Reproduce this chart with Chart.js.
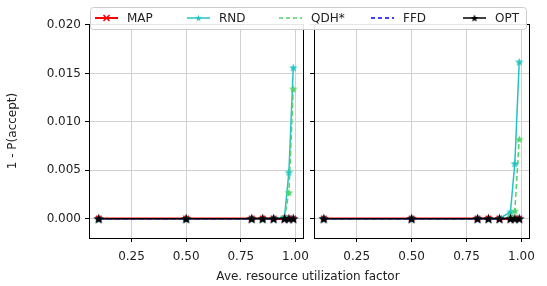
<!DOCTYPE html>
<html>
<head>
<meta charset="utf-8">
<script src="https://cdn.jsdelivr.net/npm/chart.js@4"></script>
<style>
  body { margin: 0; background: #fff; }
  #wrap { position: relative; width: 547px; height: 286px; }
  canvas { position: absolute; left: 0; top: 0; }
</style>
</head>
<body>
<div id="wrap">
  <canvas id="leftChart" width="547" height="286"></canvas>
  <canvas id="rightChart" width="547" height="286"></canvas>
</div>
<script>
// utilization factors (x axis)
const utilization = [0.1, 0.5, 0.8, 0.85, 0.9, 0.95, 0.97, 0.99];

// left panel: 1 - P(accept)
const mapLeft = [0, 0, 0, 0, 0, 0, 0, 0];
const rndLeft = [0, 0, 0, 0, 0, 0.0002, 0.0048, 0.0156];
const qdhLeft = [0, 0, 0, 0, 0, 0.0001, 0.0027, 0.0134];
const ffdLeft = [0, 0, 0, 0, 0, 0, 0, 0];
const optLeft = [0, 0, 0, 0, 0, 0, 0, 0];

// right panel
const mapRight = [0, 0, 0, 0, 0, 0, 0, 0];
const rndRight = [0, 0, 0, 0, 0, 0.0007, 0.0057, 0.0162];
const qdhRight = [0, 0, 0, 0, 0, 0.0002, 0.0008, 0.0082];
const ffdRight = [0, 0, 0, 0, 0, 0, 0, 0];
const optRight = [0, 0, 0, 0, 0, 0, 0, 0];

const xTicks = [0.25, 0.5, 0.75, 1.0];
const yTicks = [0, 0.005, 0.010, 0.015, 0.020];
const seriesNames = ['MAP', 'RND', 'QDH*', 'FFD', 'OPT'];

const FONT = 'DejaVu Sans';
const colors = { MAP: '#ff0000', RND: '#22c4c4', 'QDH*': '#4fd36a', FFD: '#0000ff', OPT: '#000000' };

// filled five-point star used as a marker
function makeStar(color, r) {
    const size = Math.ceil(2 * r + 2);
    const c = document.createElement('canvas');
    c.width = size; c.height = size;
    const ctx = c.getContext('2d');
    ctx.fillStyle = color;
    ctx.beginPath();
    for (let i = 0; i < 10; i++) {
        const rad = i % 2 === 0 ? r : r * 0.42;
        const a = -Math.PI / 2 + i * Math.PI / 5;
        const px = size / 2 + rad * Math.cos(a);
        const py = size / 2 + rad * Math.sin(a) + r * 0.1;
        if (i === 0) ctx.moveTo(px, py); else ctx.lineTo(px, py);
    }
    ctx.closePath();
    ctx.fill();
    return c;
}

const stars = {
    RND: makeStar(colors.RND, 4.5),
    'QDH*': makeStar(colors['QDH*'], 4.5),
    FFD: makeStar(colors.FFD, 4),
    OPT: makeStar(colors.OPT, 5.5)
};
const legendStars = {
    RND: makeStar(colors.RND, 3.5),
    'QDH*': makeStar(colors['QDH*'], 3.5),
    FFD: makeStar(colors.FFD, 3.5),
    OPT: makeStar(colors.OPT, 4)
};

function toPoints(values) {
    return utilization.map((x, i) => ({ x: x, y: values[i] }));
}

function buildDatasets(mapV, rndV, qdhV, ffdV, optV) {
    return [
        { label: 'MAP', data: toPoints(mapV), borderColor: colors.MAP, borderWidth: 2.5,
          pointStyle: 'crossRot', pointRadius: 4, pointBorderColor: colors.MAP, pointBorderWidth: 1.5, order: 5 },
        { label: 'RND', data: toPoints(rndV), borderColor: colors.RND, borderWidth: 1.5,
          pointStyle: stars.RND, order: 4 },
        { label: 'QDH*', data: toPoints(qdhV), borderColor: colors['QDH*'], borderWidth: 1.5, borderDash: [5, 3],
          pointStyle: stars['QDH*'], order: 3 },
        { label: 'FFD', data: toPoints(ffdV), borderColor: colors.FFD, borderWidth: 1.5, borderDash: [5, 3],
          pointStyle: stars.FFD, order: 2 },
        { label: 'OPT', data: toPoints(optV), borderColor: colors.OPT, borderWidth: 1.2,
          pointStyle: stars.OPT, order: 1 }
    ];
}

// black frame round the plot area, like matplotlib spines
const framePlugin = {
    id: 'frame',
    afterDatasetsDraw(chart) {
        const a = chart.chartArea;
        const ctx = chart.ctx;
        ctx.save();
        ctx.strokeStyle = '#000';
        ctx.lineWidth = 1;
        ctx.strokeRect(Math.round(a.left) + 0.5, Math.round(a.top) + 0.5,
                       Math.round(a.right - a.left), Math.round(a.bottom - a.top));
        ctx.restore();
    }
};

// shared legend and x title, drawn on the top canvas
const legendPlugin = {
    id: 'legendBox',
    afterDraw(chart) {
        const ctx = chart.ctx;
        ctx.save();
        const bx = 90.5, by = 7.5, bw = 436, bh = 22, r = 3;
        ctx.beginPath();
        ctx.moveTo(bx + r, by);
        ctx.arcTo(bx + bw, by, bx + bw, by + bh, r);
        ctx.arcTo(bx + bw, by + bh, bx, by + bh, r);
        ctx.arcTo(bx, by + bh, bx, by, r);
        ctx.arcTo(bx, by, bx + bw, by, r);
        ctx.closePath();
        ctx.fillStyle = 'rgba(255,255,255,0.9)';
        ctx.fill();
        ctx.strokeStyle = '#cccccc';
        ctx.lineWidth = 1;
        ctx.stroke();

        const cy = 18;
        seriesNames.forEach((name, i) => {
            const tx = 127 + i * 92;
            const x0 = tx - 32, x1 = tx - 9;
            ctx.strokeStyle = colors[name];
            ctx.lineWidth = name === 'MAP' ? 2 : 1.5;
            ctx.setLineDash(name === 'QDH*' || name === 'FFD' ? [4, 3] : []);
            ctx.beginPath();
            ctx.moveTo(x0, cy); ctx.lineTo(x1, cy);
            ctx.stroke();
            ctx.setLineDash([]);
            const mx = (x0 + x1) / 2;
            if (name === 'MAP') {
                ctx.lineWidth = 1.5;
                ctx.beginPath();
                ctx.moveTo(mx - 3, cy - 3); ctx.lineTo(mx + 3, cy + 3);
                ctx.moveTo(mx - 3, cy + 3); ctx.lineTo(mx + 3, cy - 3);
                ctx.stroke();
            } else if (name !== 'QDH*' && name !== 'FFD') {
                const s = legendStars[name];
                ctx.drawImage(s, mx - s.width / 2, cy - s.height / 2);
            }
            ctx.fillStyle = '#222';
            ctx.font = '12px "' + FONT + '"';
            ctx.textBaseline = 'middle';
            ctx.textAlign = 'left';
            ctx.fillText(name, tx, cy + 1);
        });

        // x axis title, centred under both panels
        ctx.fillStyle = '#222';
        ctx.font = '12px "' + FONT + '"';
        ctx.textAlign = 'center';
        ctx.textBaseline = 'middle';
        ctx.fillText('Ave. resource utilization factor', 308, 277);
        ctx.restore();
    }
};

function xScale() {
    return {
        type: 'linear',
        min: 0.0555,
        max: 1.0345,
        afterBuildTicks: (scale) => { scale.ticks = xTicks.map(v => ({ value: v })); },
        afterFit: (scale) => { scale.height = 48; },
        grid: { color: '#d0d0d0', tickColor: '#000', tickLength: 4 },
        border: { display: false },
        ticks: {
            padding: 8,
            color: '#222',
            font: { family: FONT, size: 12 },
            maxRotation: 0,
            callback: (v) => Number(v).toFixed(2)
        }
    };
}

function yScale(withLabels) {
    return {
        type: 'linear',
        min: -0.002,
        max: 0.0201,
        afterBuildTicks: (scale) => { scale.ticks = yTicks.map(v => ({ value: v })); },
        afterFit: (scale) => { scale.width = withLabels ? 89 : 8; },
        grid: { color: '#d0d0d0', tickColor: '#000', tickLength: 4 },
        border: { display: false },
        title: {
            display: withLabels,
            text: '1 - P(accept)',
            color: '#222',
            font: { family: FONT, size: 12 },
            padding: { top: 6, bottom: 0 }
        },
        ticks: {
            display: withLabels,
            padding: 4,
            color: '#222',
            font: { family: FONT, size: 12 },
            callback: (v) => Number(v).toFixed(3)
        }
    };
}

function makeChart(id, datasets, padding, withLabels, extraPlugins) {
    const ctx = document.getElementById(id).getContext('2d');
    return new Chart(ctx, {
        type: 'line',
        data: { datasets: datasets },
        options: {
            responsive: false,
            animation: false,
            layout: { padding: padding },
            plugins: { legend: { display: false }, tooltip: { enabled: false } },
            elements: { line: { tension: 0, fill: false }, point: { radius: 4 } },
            scales: { x: xScale(), y: yScale(withLabels) }
        },
        plugins: [framePlugin].concat(extraPlugins)
    });
}

makeChart('leftChart', buildDatasets(mapLeft, rndLeft, qdhLeft, ffdLeft, optLeft),
          { left: 0, top: 24, right: 244, bottom: 0 }, true, []);
makeChart('rightChart', buildDatasets(mapRight, rndRight, qdhRight, ffdRight, optRight),
          { left: 306, top: 24, right: 18, bottom: 0 }, false, [legendPlugin]);
</script>
</body>
</html>
